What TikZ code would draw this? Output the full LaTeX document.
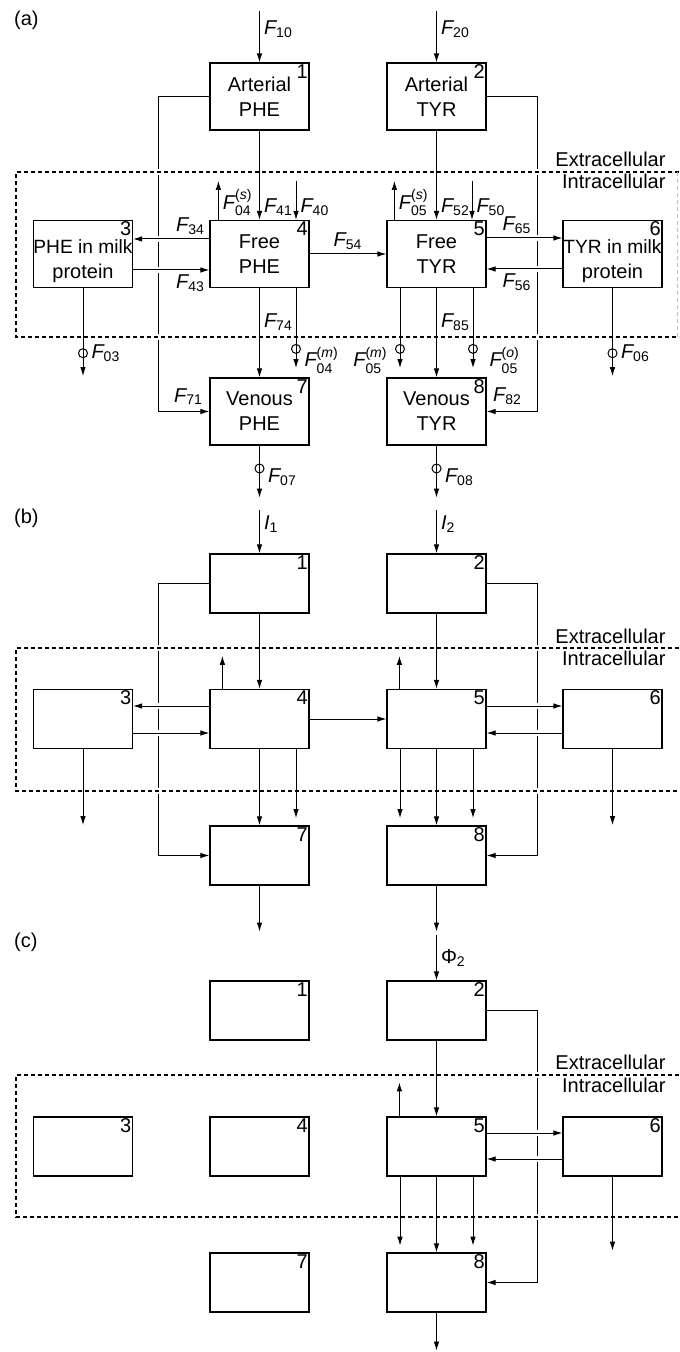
\documentclass[tikz,border=0pt]{standalone}
\usepackage{amsmath}
\usepackage{fontspec}
\setmainfont{Liberation Sans}
\usetikzlibrary{arrows.meta}
\newcommand{\fx}[1]{$\textit{F}_{\text{#1}}$}
\newcommand{\fxs}[2]{$\textit{F}^{\text{(\textit{#1})}}_{\text{#2}}$}
\begin{document}
\begin{tikzpicture}[x=0.5pt, y=-0.5pt, font=\fontsize{10}{12.5}\selectfont,
  >={Latex[length=4.5pt,width=2.8pt]}, line width=0.5pt,
  abox/.style={draw, line width=0.6pt, minimum width=49.5pt, minimum height=33.5pt,
    inner sep=0pt, align=center},
  bbox/.style={abox, minimum height=29.5pt},
  num/.style={anchor=north east, inner sep=0.7pt},
  flab/.style={inner sep=2pt},
  ring/.style={circle, draw, line width=0.5pt, inner sep=0pt, minimum size=4.5pt},
  bound/.style={line width=0.6pt, dash pattern=on 2.2pt off 1.3pt},
  gap/.style={preaction={draw=white, solid, line width=3pt, -}},
  zone/.style={anchor=base east, inner sep=0pt}]
  \useasboundingbox (0,0) rectangle (679,1352);

  % (a) the full model with all fluxes
  \node[anchor=west] at (7,20) {(a)};
  \node[abox, label={[num]north east:1}] (a1) at (259.5,96.5) {Arterial\\PHE};
  \node[abox, label={[num]north east:2}] (a2) at (436.5,96.5) {Arterial\\TYR};
  \node[abox, label={[num]north east:3}] (a3) at (83,254)
    {\rule{0pt}{14.5pt}\makebox[0pt]{\fontsize{9.6}{12}\selectfont PHE in milk}\\protein};
  \node[abox, label={[num]north east:4}] (a4) at (259.5,254) {Free\\PHE};
  \node[abox, label={[num]north east:5}] (a5) at (436.5,254) {Free\\TYR};
  \node[abox, label={[num]north east:6}] (a6) at (612.5,254)
    {\rule{0pt}{14.5pt}\makebox[0pt]{\fontsize{9.6}{12}\selectfont TYR in milk}\\protein};
  \node[abox, label={[num]north east:7}] (a7) at (259.5,411.5) {Venous\\PHE};
  \node[abox, label={[num]north east:8}] (a8) at (436.5,411.5) {Venous\\TYR};
  \draw[->] (a1.west) -- ++(-51,0) |- (a7.west)
    node[flab, pos=1, anchor=south east, inner sep=3pt] {\fx{71}};
  \draw[->] (a2.east) -- ++(51,0) |- (a8.east)
    node[flab, pos=1, anchor=south west, inner sep=3pt] {\fx{82}};
  \draw[bound, gap] (679,172) -- (16,172) -- (16,337) -- (679,337);
  \draw[bound, gray!50, line width=0.4pt] (677,172) -- (677,337);
  \draw[->, gap] ([yshift=7.5pt]a4.west) -- ([yshift=7.5pt]a3.east)
    node[flab, pos=0, anchor=south east] {\fx{34}};
  \draw[->, gap] ([yshift=-8pt]a3.east) -- ([yshift=-8pt]a4.west)
    node[flab, pos=1, anchor=north east] {\fx{43}};
  \draw[->, gap] ([yshift=8pt]a5.east) -- ([yshift=8pt]a6.west)
    node[flab, pos=.4, above] {\fx{65}};
  \draw[->, gap] ([yshift=-7.5pt]a6.west) -- ([yshift=-7.5pt]a5.east)
    node[flab, pos=.6, below] {\fx{56}};
  \draw[->] (a4) -- (a5) node[flab, midway, above] {\fx{54}};
  \draw[<-] (a1.north) -- ++(0,-51) node[flab, pos=.65, anchor=west] {\fx{10}};
  \draw[<-] (a2.north) -- ++(0,-51) node[flab, pos=.65, anchor=west] {\fx{20}};
  \draw[->] (a1) -- (a4) node[flab, pos=1, anchor=south west] {\fx{41}};
  \draw[->] (a2) -- (a5) node[flab, pos=1, anchor=south west] {\fx{52}};
  \draw[<-] ([xshift=18.25pt]a4.north) -- ++(0,-39)
    node[flab, pos=0, anchor=south west] {\fx{40}};
  \draw[<-] ([xshift=17.75pt]a5.north) -- ++(0,-39)
    node[flab, pos=0, anchor=south west] {\fx{50}};
  \draw[->] ([xshift=4.5pt]a4.north west) -- ++(0,-39)
    node[flab, pos=0, anchor=south west] {\fxs{s}{04}};
  \draw[->] ([xshift=4pt]a5.north west) -- ++(0,-39)
    node[flab, pos=0, anchor=south west] {\fxs{s}{05}};
  \draw[->] (a4) -- (a7) node[flab, pos=.38, anchor=west] {\fx{74}};
  \draw[->] (a5) -- (a8) node[flab, pos=.38, anchor=west] {\fx{85}};
  \draw[->] ([xshift=18.25pt]a4.south) -- ++(0,80) node[ring, pos=.76] {}
    node[flab, pos=.9, anchor=west, xshift=2pt] {\fxs{m}{04}};
  \draw[->] ([xshift=-18.25pt]a5.south) -- ++(0,80) node[ring, pos=.76] {}
    node[flab, pos=.9, anchor=east, xshift=-4pt] {\fxs{m}{05}};
  \draw[->] ([xshift=18.25pt]a5.south) -- ++(0,80) node[ring, pos=.76] {}
    node[flab, pos=.9, anchor=west, xshift=6pt] {\fxs{o}{05}};
  \draw[->] (a3.south) -- ++(0,88) node[ring, pos=.74] {}
    node[flab, pos=.74, anchor=west, xshift=2pt] {\fx{03}};
  \draw[->] (a6.south) -- ++(0,88) node[ring, pos=.74] {}
    node[flab, pos=.74, anchor=west, xshift=2pt] {\fx{06}};
  \draw[->] (a7.south) -- ++(0,52) node[ring, pos=.44] {}
    node[flab, pos=.6, anchor=west, xshift=2pt] {\fx{07}};
  \draw[->] (a8.south) -- ++(0,52) node[ring, pos=.44] {}
    node[flab, pos=.6, anchor=west, xshift=2pt] {\fx{08}};
  \node[zone] at (666,167) {Extracellular};
  \node[zone] at (666,189) {Intracellular};

  % (b)
  \node[anchor=west] at (7,518) {(b)};
  \node[bbox, label={[num]north east:1}] (b1) at (259.5,583.5) {};
  \node[bbox, label={[num]north east:2}] (b2) at (436.5,583.5) {};
  \node[bbox, label={[num]north east:3}] (b3) at (83,719) {};
  \node[bbox, label={[num]north east:4}] (b4) at (259.5,719) {};
  \node[bbox, label={[num]north east:5}] (b5) at (436.5,719) {};
  \node[bbox, label={[num]north east:6}] (b6) at (612.5,719) {};
  \node[bbox, label={[num]north east:7}] (b7) at (259.5,855.5) {};
  \node[bbox, label={[num]north east:8}] (b8) at (436.5,855.5) {};
  \draw[->] (b1.west) -- ++(-51,0) |- (b7.west);
  \draw[->] (b2.east) -- ++(51,0) |- (b8.east);
  \draw[bound, gap] (679,648) -- (16,648) -- (16,791) -- (679,791);
  \draw[->, gap] ([yshift=6.5pt]b4.west) -- ([yshift=6.5pt]b3.east);
  \draw[->, gap] ([yshift=-7pt]b3.east) -- ([yshift=-7pt]b4.west);
  \draw[->, gap] ([yshift=6.5pt]b5.east) -- ([yshift=6.5pt]b6.west);
  \draw[->, gap] ([yshift=-7pt]b6.west) -- ([yshift=-7pt]b5.east);
  \draw[->] (b4) -- (b5);
  \draw[<-] (b1.north) -- ++(0,-43)
    node[flab, pos=.67, anchor=west] {$\textit{I}_{\text{1}}$};
  \draw[<-] (b2.north) -- ++(0,-43)
    node[flab, pos=.67, anchor=west] {$\textit{I}_{\text{2}}$};
  \draw[->] (b1) -- (b4);
  \draw[->] (b2) -- (b5);
  \draw[->] ([xshift=6.5pt]b4.north west) -- ++(0,-33);
  \draw[->] ([xshift=6.5pt]b5.north west) -- ++(0,-33);
  \draw[->] (b4) -- (b7);
  \draw[->] (b5) -- (b8);
  \draw[->] ([xshift=18.25pt]b4.south) -- ++(0,69);
  \draw[->] ([xshift=-18.25pt]b5.south) -- ++(0,69);
  \draw[->] ([xshift=18.25pt]b5.south) -- ++(0,69);
  \draw[->] (b3.south) -- ++(0,76);
  \draw[->] (b6.south) -- ++(0,76);
  \draw[->] (b7.south) -- ++(0,46);
  \draw[->] (b8.south) -- ++(0,46);
  \node[zone] at (666,643) {Extracellular};
  \node[zone] at (666,665) {Intracellular};

  % (c)
  \node[anchor=west] at (7,942) {(c)};
  \node[bbox, label={[num]north east:1}] (c1) at (259.5,1010.5) {};
  \node[bbox, label={[num]north east:2}] (c2) at (436.5,1010.5) {};
  \node[bbox, label={[num]north east:3}] (c3) at (83,1146.5) {};
  \node[bbox, label={[num]north east:4}] (c4) at (259.5,1146.5) {};
  \node[bbox, label={[num]north east:5}] (c5) at (436.5,1146.5) {};
  \node[bbox, label={[num]north east:6}] (c6) at (612.5,1146.5) {};
  \node[bbox, label={[num]north east:7}] (c7) at (259.5,1282.5) {};
  \node[bbox, label={[num]north east:8}] (c8) at (436.5,1282.5) {};
  \draw[->] (c2.east) -- ++(51,0) |- (c8.east);
  \draw[bound, gap] (679,1075) -- (16,1075) -- (16,1217) -- (679,1217);
  \draw[->, gap] ([yshift=6.75pt]c5.east) -- ([yshift=6.75pt]c6.west);
  \draw[->, gap] ([yshift=-6.25pt]c6.west) -- ([yshift=-6.25pt]c5.east);
  \draw[<-] (c2.north) -- ++(0,-45)
    node[flab, midway, anchor=west] {$\text{Φ}_{\text{2}}$};
  \draw[->] (c2) -- (c5);
  \draw[->] ([xshift=6.5pt]c5.north west) -- ++(0,-34);
  \draw[->] (c5) -- (c8);
  \draw[->] ([xshift=-18.25pt]c5.south) -- ++(0,69);
  \draw[->] ([xshift=18.25pt]c5.south) -- ++(0,69);
  \draw[->] (c6.south) -- ++(0,74);
  \draw[->] (c8.south) -- ++(0,38);
  \node[zone] at (666,1069) {Extracellular};
  \node[zone] at (666,1092) {Intracellular};
\end{tikzpicture}
\end{document}
